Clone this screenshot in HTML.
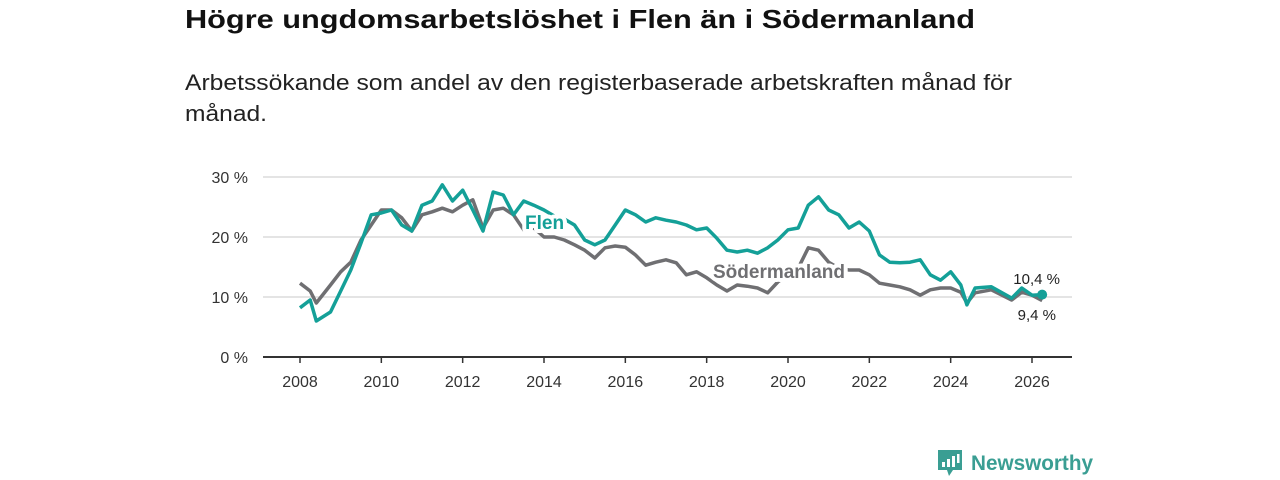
<!DOCTYPE html>
<html><head><meta charset="utf-8"><style>
html,body{margin:0;padding:0;background:#fff;width:1280px;height:480px;overflow:hidden;font-family:"Liberation Sans",sans-serif}
</style></head><body>
<svg id="chart" width="1280" height="480" xmlns="http://www.w3.org/2000/svg" font-family="Liberation Sans, sans-serif">
<text x="185" y="28" font-size="26" font-weight="bold" fill="#111" textLength="790" lengthAdjust="spacingAndGlyphs">Högre ungdomsarbetslöshet i Flen än i Södermanland</text>
<text x="185" y="90" font-size="22" fill="#222" textLength="827" lengthAdjust="spacingAndGlyphs">Arbetssökande som andel av den registerbaserade arbetskraften månad för</text>
<text x="185" y="121" font-size="22" fill="#222" textLength="82" lengthAdjust="spacingAndGlyphs">månad.</text>
<g id="grid"></g><g id="axes"></g><g id="series"></g><g id="labels"></g>
<g transform="translate(938,450)">
<path d="M0 0h24v20h-9l-4 6-2-6h-9z" fill="#3a9e93"/>
<rect x="4" y="12" width="3" height="5" fill="#fff"/><rect x="9" y="9" width="3" height="8" fill="#fff"/><rect x="14" y="6" width="3" height="11" fill="#fff"/><rect x="19" y="4" width="2.5" height="9" fill="#fff"/>
<text x="33" y="20" font-size="21" font-weight="bold" fill="#3a9e93" textLength="122" lengthAdjust="spacingAndGlyphs">Newsworthy</text>
</g>
</svg>
<script>
const years=[2008,2008.25,2008.4,2008.75,2009,2009.25,2009.5,2009.75,2010,2010.25,2010.5,2010.75,2011,2011.25,2011.5,2011.75,2012,2012.25,2012.5,2012.75,2013,2013.25,2013.5,2013.75,2014,2014.25,2014.5,2014.75,2015,2015.25,2015.5,2015.75,2016,2016.25,2016.5,2016.75,2017,2017.25,2017.5,2017.75,2018,2018.25,2018.5,2018.75,2019,2019.25,2019.5,2019.75,2020,2020.25,2020.5,2020.75,2021,2021.25,2021.5,2021.75,2022,2022.25,2022.5,2022.75,2023,2023.25,2023.5,2023.75,2024,2024.25,2024.4,2024.6,2025,2025.5,2025.75,2026,2026.25];
const flen=[8.2,9.5,6,7.5,11,14.5,19,23.7,24,24.5,22,21,25.3,26,28.7,26,27.8,24.5,21,27.5,27,23.7,26,25.3,24.5,23.5,23,22,19.5,18.7,19.5,22,24.5,23.7,22.5,23.2,22.8,22.5,22,21.2,21.5,19.8,17.8,17.5,17.8,17.3,18.2,19.5,21.2,21.5,25.3,26.7,24.5,23.7,21.5,22.5,21,17,15.8,15.7,15.8,16.2,13.7,12.8,14.2,12,8.7,11.5,11.7,9.8,11.5,10.3,10.4];
const sodermanland=[12.3,11,9,12,14.2,15.8,19.5,22,24.5,24.5,23.2,21,23.7,24.2,24.8,24.2,25.3,26.2,21.5,24.5,24.8,23.7,21.2,21.5,20,20,19.5,18.7,17.8,16.5,18.2,18.5,18.3,17,15.3,15.8,16.2,15.7,13.7,14.2,13.2,12,11,12,11.8,11.5,10.7,12.5,13.7,14.8,18.2,17.8,15.8,14.8,14.5,14.5,13.7,12.3,12,11.7,11.2,10.3,11.2,11.5,11.5,10.8,9,10.7,11.2,9.5,10.8,10.3,9.4];
const yTicks=[0,10,20,30];
const xTicks=[2008,2010,2012,2014,2016,2018,2020,2022,2024,2026];
const NS='http://www.w3.org/2000/svg';
const X=v=>300+(v-2008)*(732/18);
const Y=v=>357-v*6;
function mk(tag,attrs,parent){const e=document.createElementNS(NS,tag);for(const k in attrs)e.setAttribute(k,attrs[k]);document.getElementById(parent).appendChild(e);return e;}
yTicks.forEach(t=>{
  if(t>0){const l=mk('line',{x1:263,x2:1072,y1:Y(t),y2:Y(t),stroke:'#dcdcdc','stroke-width':1.5},'grid');
  
  }
  const tx=mk('text',{x:248,y:Y(t)+6,'font-size':16,fill:'#333','text-anchor':'end'},'axes');
  tx.textContent=t+' %';
  
  
});
const ax=mk('line',{x1:263,x2:1072,y1:Y(0),y2:Y(0),stroke:'#333','stroke-width':2},'axes');


xTicks.forEach(t=>{
  const tk=mk('line',{x1:X(t),x2:X(t),y1:Y(0),y2:Y(0)+6,stroke:'#333','stroke-width':1.5},'axes');
  
  
  const tx=mk('text',{x:X(t),y:Y(0)+30,'font-size':16,fill:'#333','text-anchor':'middle'},'axes');
  tx.textContent=t;
  
  
});
function line(vals,color,name){
  const d=vals.map((v,i)=>(i?'L':'M')+X(years[i]).toFixed(1)+' '+Y(v).toFixed(1)).join(' ');
  const p=mk('path',{d:d,fill:'none',stroke:color,'stroke-width':3.5,'stroke-linejoin':'round'},'series');
  
  
}
line(sodermanland,'#6f6f72','sodermanland-line');
line(flen,'#14a098','flen-line');
const last=years.length-1;
const dot=mk('circle',{cx:X(years[last]),cy:Y(flen[last]),r:5,fill:'#14a098'},'series');


function label(txt,x,y,color,size,weight,name,anchor){
  const t=mk('text',{x:x,y:y,'font-size':size,'font-weight':weight,fill:color,stroke:'#fff','stroke-width':weight==='bold'?8:4,'paint-order':'stroke','stroke-linejoin':'round','text-anchor':anchor||'start'},'labels');
  t.textContent=txt;
  
  
}
label('Flen',525,229,'#14a098',19,'bold','flen-series-label');
label('Södermanland',713,278,'#6f6f72',19,'bold','sodermanland-series-label');
label(String(flen[last]).replace('.',',')+' %',1060,284,'#222',15,'normal','flen-end-value','end');
label(String(sodermanland[last]).replace('.',',')+' %',1056,320,'#222',15,'normal','sodermanland-end-value','end');
</script>
</body></html>
